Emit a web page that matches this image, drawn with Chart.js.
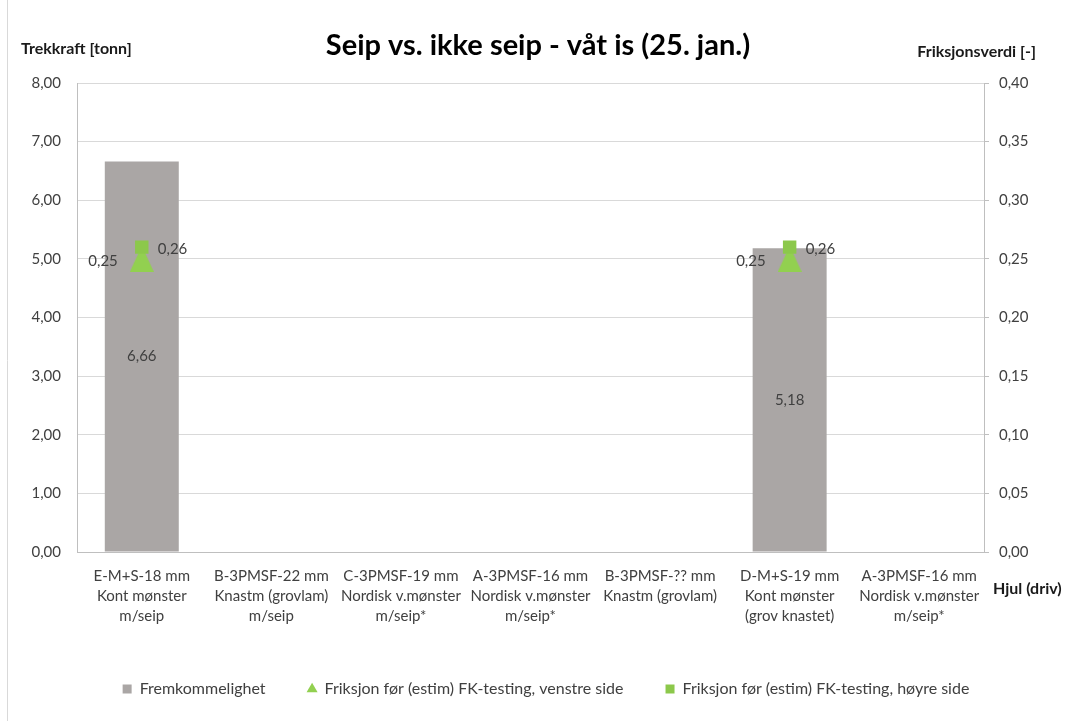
<!DOCTYPE html>
<html>
<head>
<meta charset="utf-8">
<title>Seip vs. ikke seip - våt is (25. jan.)</title>
<script src="https://cdn.jsdelivr.net/npm/chart.js@4.4.1/dist/chart.umd.min.js"></script>
<style>
  html, body { margin: 0; padding: 0; background: #fff; }
  #wrap { width: 1066px; height: 721px; position: relative; }
</style>
</head>
<body>
<div id="wrap"><canvas id="chart"></canvas></div>
<script>
// Data
const categories = [
    ['E-M+S-18 mm', 'Kont mønster', 'm/seip'],
    ['B-3PMSF-22 mm', 'Knastm (grovlam)', 'm/seip'],
    ['C-3PMSF-19 mm', 'Nordisk v.mønster', 'm/seip*'],
    ['A-3PMSF-16 mm', 'Nordisk v.mønster', 'm/seip*'],
    ['B-3PMSF-?? mm', 'Knastm (grovlam)'],
    ['D-M+S-19 mm', 'Kont mønster', '(grov knastet)'],
    ['A-3PMSF-16 mm', 'Nordisk v.mønster', 'm/seip*']
];
const fremkommelighet = [6.66, null, null, null, null, 5.18, null];
const friksjonVenstre = [0.25, null, null, null, null, 0.25, null];
const friksjonHoyre = [0.26, null, null, null, null, 0.26, null];

const seriesNames = [
    'Fremkommelighet',
    'Friksjon før (estim) FK-testing, venstre side',
    'Friksjon før (estim) FK-testing, høyre side'
];
const chartTitle = 'Seip vs. ikke seip - våt is (25. jan.)';
const leftAxisTitle = 'Trekkraft [tonn]';
const rightAxisTitle = 'Friksjonsverdi [-]';
const xAxisTitle = 'Hjul (driv)';

const leftMin = 0, leftMax = 8, leftStep = 1;
const rightMin = 0, rightMax = 0.4, rightStep = 0.05;

const textColor = '#404040';
const fmt = (v) => v.toFixed(2).replace('.', ',');

// Excel-style triangle marker (centered in its box)
function makeTriangle(w, h, color) {
    const c = document.createElement('canvas');
    c.width = w;
    c.height = h;
    const g = c.getContext('2d');
    g.fillStyle = color;
    g.beginPath();
    g.moveTo(w / 2, 0);
    g.lineTo(w, h);
    g.lineTo(0, h);
    g.closePath();
    g.fill();
    return c;
}
const triangleMarker = makeTriangle(24, 26, '#92D050');

// Titles, axis captions and data labels
const textPlugin = {
    id: 'texts',
    beforeDraw(chart) {
        const ctx = chart.ctx;
        ctx.save();
        ctx.strokeStyle = '#d9d9d9';
        ctx.lineWidth = 1;
        ctx.beginPath();
        ctx.moveTo(7.5, 0);
        ctx.lineTo(7.5, 721);
        ctx.stroke();
        ctx.restore();
    },
    afterDatasetsDraw(chart) {
        const ctx = chart.ctx;
        ctx.save();
        ctx.font = '15px Lato';
        ctx.fillStyle = textColor;
        ctx.textBaseline = 'middle';

        const barMeta = chart.getDatasetMeta(0);
        ctx.textAlign = 'center';
        barMeta.data.forEach((bar, i) => {
            if (fremkommelighet[i] == null) return;
            ctx.fillText(fmt(fremkommelighet[i]), bar.x, (bar.y + bar.base) / 2);
        });

        const leftMeta = chart.getDatasetMeta(1);
        ctx.textAlign = 'right';
        leftMeta.data.forEach((pt, i) => {
            if (friksjonVenstre[i] == null) return;
            ctx.fillText(fmt(friksjonVenstre[i]), pt.x - 24, pt.y + 2);
        });

        const rightMeta = chart.getDatasetMeta(2);
        ctx.textAlign = 'left';
        rightMeta.data.forEach((pt, i) => {
            if (friksjonHoyre[i] == null) return;
            ctx.fillText(fmt(friksjonHoyre[i]), pt.x + 16, pt.y + 2);
        });
        ctx.restore();
    },
    afterDraw(chart) {
        const ctx = chart.ctx;
        ctx.save();
        ctx.textBaseline = 'middle';
        ctx.fillStyle = '#000';
        ctx.font = 'bold 29px Lato';
        ctx.textAlign = 'center';
        ctx.fillText(chartTitle, 538, 46);

        ctx.fillStyle = '#1a1a1a';
        ctx.font = 'bold 16px Lato';
        ctx.textAlign = 'left';
        ctx.fillText(leftAxisTitle, 21, 49);
        ctx.fillText(xAxisTitle, 993, 589);
        ctx.textAlign = 'right';
        ctx.fillText(rightAxisTitle, 1036, 52);
        ctx.restore();
    }
};

Chart.defaults.font.family = 'Lato';
Chart.defaults.font.size = 15;
Chart.defaults.color = textColor;

const ctx = document.getElementById('chart').getContext('2d');
const chart = new Chart(ctx, {
    type: 'bar',
    data: {
        labels: categories,
        datasets: [{
            type: 'bar',
            label: seriesNames[0],
            data: fremkommelighet,
            backgroundColor: '#aaa6a5',
            borderWidth: 0,
            pointStyle: 'rect',
            yAxisID: 'y',
            categoryPercentage: 1,
            barPercentage: 0.571,
            order: 3
        }, {
            type: 'line',
            label: seriesNames[1],
            data: friksjonVenstre,
            showLine: false,
            backgroundColor: '#92D050',
            borderColor: '#92D050',
            borderWidth: 0,
            pointStyle: triangleMarker,
            pointRadius: 12,
            pointBorderWidth: 0,
            yAxisID: 'y2',
            order: 2
        }, {
            type: 'line',
            label: seriesNames[2],
            data: friksjonHoyre,
            showLine: false,
            backgroundColor: '#8CC84B',
            borderColor: '#8CC84B',
            borderWidth: 0,
            pointStyle: 'rect',
            pointRadius: 9.5,
            pointBorderWidth: 0,
            yAxisID: 'y2',
            order: 1
        }]
    },
    options: {
        responsive: true,
        maintainAspectRatio: false,
        animation: false,
        layout: {
            padding: { top: 83, left: 26, right: 0, bottom: 14 }
        },
        plugins: {
            title: { display: false },
            tooltip: { enabled: false },
            legend: {
                position: 'bottom',
                labels: {
                    usePointStyle: true,
                    boxWidth: 9,
                    boxHeight: 9,
                    padding: 42,
                    color: textColor,
                    font: { size: 16 },
                    sort: (a, b) => a.datasetIndex - b.datasetIndex,
                    generateLabels(chart) {
                        const items = Chart.defaults.plugins.legend.labels.generateLabels(chart);
                        items.forEach(it => {
                            if (it.datasetIndex === 1) it.pointStyle = 'triangle';
                        });
                        return items;
                    }
                }
            }
        },
        scales: {
            x: {
                offset: true,
                grid: { display: false, drawTicks: false },
                border: { display: true, color: '#bfbfbf' },
                ticks: {
                    autoSkip: false,
                    maxRotation: 0,
                    minRotation: 0,
                    padding: 14,
                    color: textColor,
                    font: { size: 15, lineHeight: 1.33 }
                },
                afterFit: (scale) => { scale.height = 87; }
            },
            y: {
                position: 'left',
                min: leftMin,
                max: leftMax,
                ticks: {
                    stepSize: leftStep,
                    padding: 16,
                    color: textColor,
                    callback: (v) => fmt(v)
                },
                grid: { color: '#d9d9d9', drawTicks: false },
                border: { display: true, color: '#bfbfbf' },
                afterFit: (scale) => { scale.width = 51; }
            },
            y2: {
                position: 'right',
                min: rightMin,
                max: rightMax,
                ticks: {
                    stepSize: rightStep,
                    padding: 10,
                    color: textColor,
                    callback: (v) => fmt(v)
                },
                grid: { drawOnChartArea: false, drawTicks: true, tickLength: 5, color: '#bfbfbf' },
                border: { display: true, color: '#bfbfbf' },
                afterFit: (scale) => { scale.width = 82; }
            }
        }
    },
    plugins: [textPlugin]
});
</script>
</body>
</html>
